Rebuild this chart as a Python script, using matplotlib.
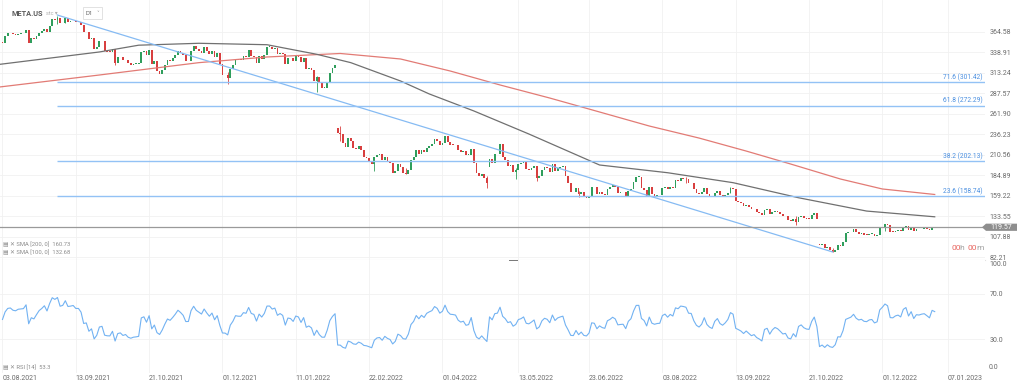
import numpy as np
import pandas as pd
import matplotlib.pyplot as plt
from matplotlib.patches import Polygon, Rectangle
from matplotlib.transforms import IdentityTransform

plt.rcParams['font.family'] = ['Roboto', 'DejaVu Sans']

# NYSE holidays inside the window
holidays = ['2021-09-06', '2021-11-25', '2021-12-24', '2022-01-17', '2022-02-21',
            '2022-04-15', '2022-05-30', '2022-06-20', '2022-07-04', '2022-09-05',
            '2022-11-24', '2022-12-26', '2023-01-02']

# July 2021 closes, only used to warm up the RSI
warmup = [354.39, 354.70, 352.78, 350.49, 345.65, 350.42, 351.23, 352.09, 347.63, 344.46,
          341.16, 336.95, 341.66, 346.23, 351.19, 369.79, 372.46, 367.81, 373.28, 358.32,
          356.30, 351.95]

# daily closes META.US, 03.08.2021 - 30.12.2022
aug21 = [351.24, 358.92, 362.97, 363.51, 361.61, 361.15, 362.65, 362.88, 363.18, 366.56,
         351.19, 356.56, 355.45, 359.37, 363.35, 365.51, 368.39, 364.38, 372.63, 380.66, 379.38]
sep21 = [382.05, 375.28, 376.26, 382.18, 377.57, 378.00, 378.69, 376.51, 376.53, 373.92,
         364.28, 364.72, 355.70, 357.48, 343.21, 345.96, 352.96, 353.58, 340.65, 339.61, 339.39]
oct21 = [343.01, 326.23, 332.96, 333.64, 329.22, 330.05, 325.45, 323.77, 324.54, 324.76,
         325.10, 339.99, 341.13, 335.34, 341.88, 324.61, 328.69, 315.81, 312.22, 316.92, 323.57]
nov21 = [329.98, 328.08, 331.62, 335.85, 341.13, 338.62, 335.37, 327.64, 327.74, 340.89,
         347.56, 342.96, 340.77, 338.69, 345.30, 341.01, 337.25, 341.06, 333.12, 338.03, 324.46]
dec21 = [310.60, 310.39, 306.84, 317.87, 322.81, 330.56, 329.82, 329.75, 334.49, 333.74,
         341.66, 334.90, 333.79, 325.45, 334.20, 330.45, 335.24, 346.18, 346.22, 342.94,
         344.36, 336.35]
jan22 = [338.54, 336.53, 324.17, 332.46, 331.79, 328.07, 334.37, 333.26, 326.48, 331.90,
         318.15, 319.59, 316.56, 303.17, 308.71, 300.15, 294.63, 294.64, 301.71, 313.26]
feb22 = [319.00, 323.00, 237.76, 237.09, 224.91, 220.18, 232.00, 228.07, 219.55, 217.70,
         221.00, 216.54, 207.71, 206.16, 202.08, 198.45, 207.60, 210.48, 211.03]
mar22 = [203.49, 208.11, 202.97, 200.06, 187.47, 190.29, 198.50, 195.21, 187.61, 186.63,
         192.03, 203.63, 207.84, 216.49, 211.49, 216.65, 213.46, 219.57, 221.82, 223.59,
         229.86, 227.85, 222.36]
apr22 = [224.85, 233.89, 226.58, 223.30, 222.95, 222.33, 216.46, 214.14, 214.99, 210.18,
         210.77, 217.31, 200.42, 188.07, 184.11, 186.99, 180.95, 174.95, 205.73, 200.47]
may22 = [211.13, 212.03, 223.41, 208.28, 203.77, 196.21, 197.65, 188.74, 191.24, 198.62,
         200.04, 202.62, 192.24, 191.29, 193.54, 196.23, 181.28, 183.83, 191.63, 195.13, 193.64]
jun22 = [188.64, 198.86, 190.78, 194.25, 195.65, 196.64, 184.00, 175.57, 164.26, 163.73,
         169.35, 160.87, 163.74, 157.05, 155.85, 158.75, 170.16, 169.49, 160.68, 163.94, 161.25]
jul22 = [160.03, 168.19, 169.77, 172.19, 170.25, 162.88, 163.27, 163.49, 158.05, 164.70,
         167.23, 175.78, 183.09, 183.17, 169.27, 166.65, 159.15, 169.58, 160.72, 159.10]
aug22 = [159.93, 160.19, 168.80, 170.57, 167.11, 170.25, 168.53, 178.34, 177.49, 180.89,
         180.50, 179.89, 174.85, 174.66, 167.96, 163.05, 161.11, 163.26, 168.78, 161.78,
         158.71, 157.16, 162.93]
sep22 = [165.36, 160.32, 158.54, 160.39, 163.06, 169.15, 167.84, 153.13, 151.47, 149.55,
         146.29, 148.10, 145.15, 142.12, 142.82, 139.07, 137.10, 134.40, 141.61, 142.41, 135.68]
oct22 = [138.61, 140.28, 138.98, 136.41, 133.45, 133.79, 128.54, 127.50, 130.29, 126.76,
         133.04, 134.04, 131.53, 130.35, 130.01, 134.60, 137.51, 129.82, 97.94, 99.20, 93.16]
nov22 = [95.20, 90.54, 88.91, 90.79, 96.72, 96.47, 101.47, 111.87, 113.02, 114.22,
         117.08, 113.23, 111.45, 112.05, 110.19, 109.87, 111.13, 111.41, 108.78, 109.46, 118.10]
dec22 = [120.44, 123.49, 122.43, 114.12, 113.93, 115.33, 115.90, 114.71, 120.15, 121.59,
         116.15, 119.43, 114.48, 117.36, 117.12, 117.75, 118.04, 116.88, 115.62, 120.26, 119.57]

# opens that gapped away from the previous close
gap_opens = {'2022-02-03': 244.65, '2022-04-28': 194.72, '2022-10-27': 97.98}

# the wicks that stand out on the chart (date: low, high)
wicks = {'2021-09-01': (375.0, 384.3), '2021-09-07': (376.0, 383.5), '2021-10-04': (323.2, 338.0),
         '2021-12-03': (299.5, 314.0), '2022-01-24': (289.1, 309.0), '2022-02-04': (228.0, 247.0),
         '2022-02-24': (190.2, 208.0), '2022-03-14': (185.8, 194.0), '2022-04-27': (169.0, 184.0),
         '2022-05-12': (180.0, 194.0), '2022-05-24': (177.0, 190.0), '2022-06-16': (157.0, 165.0),
         '2022-08-16': (175.0, 183.1), '2022-09-09': (162.5, 170.5), '2022-10-14': (122.8, 134.0),
         '2022-11-03': (88.1, 93.5), '2022-12-02': (115.0, 124.0)}

# moving averages (bar index, value)
sma200_idx = [-1, 37, 75, 101, 129, 152, 171, 190, 209, 228, 247, 266, 284, 301, 320, 336, 356]
sma200_val = [295.6, 310.6, 326.1, 333.2, 337.6, 330.7, 315.6, 298.1, 281.7, 264.2, 246.6,
              231.5, 215.2, 198.9, 180.1, 167.6, 160.7]
sma100_idx = [-1, 37, 52, 75, 101, 120, 133, 152, 163, 180, 201, 228, 254, 279, 304, 330, 356]
sma100_val = [324.0, 339.5, 348.0, 350.4, 348.6, 336.6, 326.1, 303.1, 286.8, 265.5, 236.6,
              197.7, 188.0, 175.5, 156.6, 139.9, 132.7]

# fibonacci retracement: swing high -> swing low
fib_start = ('2021-09-01', 385.8)
fib_end = ('2022-11-03', 88.6)
fib_levels = [301.42, 272.29, 202.13, 158.74]
fib_labels = ['71.6 (301.42)', '61.8 (272.29)', '38.2 (202.13)', '23.6 (158.74)']

price_ticks = [364.58, 338.91, 313.24, 287.57, 261.90, 236.23, 210.56, 184.89,
               159.22, 133.55, 107.88, 82.21]
date_labels = ['03.08.2021', '13.09.2021', '21.10.2021', '01.12.2021', '11.01.2022',
               '22.02.2022', '01.04.2022', '13.05.2022', '23.06.2022', '03.08.2022',
               '13.09.2022', '21.10.2022', '01.12.2022', '07.01.2023']
last_price = 119.57

closes = np.array(aug21 + sep21 + oct21 + nov21 + dec21 + jan22 + feb22 + mar22 + apr22
                  + may22 + jun22 + jul22 + aug22 + sep22 + oct22 + nov22 + dec22)
n = len(closes)
days = pd.bdate_range('2021-08-03', '2023-01-31', freq='C', holidays=holidays)
dates = days[:n]

opens = np.r_[warmup[-1], closes[:-1]]
for d, o in gap_opens.items():
    opens[dates.get_loc(pd.Timestamp(d))] = o

# RSI 14 (Wilder)
allc = pd.Series(warmup + list(closes))
delta = allc.diff()
gain = delta.clip(lower=0).ewm(alpha=1 / 14, adjust=False).mean()
loss = (-delta.clip(upper=0)).ewm(alpha=1 / 14, adjust=False).mean()
rsi = (100 - 100 / (1 + gain / loss)).values[-n:]

W, H = 1024, 388
fig = plt.figure(figsize=(W / 100, H / 100), dpi=100)
ax = fig.add_axes([0, 1 - 260 / H, 985 / W, 260 / H])
rax = fig.add_axes([0, 1 - 373 / H, 985 / W, 113 / H])

x = np.arange(n)
xmin, xmax = -0.95, 375.2
tick_pos = [days.searchsorted(pd.to_datetime(d, dayfirst=True)) for d in date_labels]

green, red = '#2f9e5c', '#d83f3f'
up = closes >= opens
cols = np.where(up, green, red)

for d, (lo, hi) in wicks.items():
    i = dates.get_loc(pd.Timestamp(d))
    ax.vlines(i, lo, hi, color=cols[i], lw=0.6)

body_lo = np.minimum(opens, closes)
body_h = np.maximum(np.abs(closes - opens), 0.7)
ax.bar(x, body_h, bottom=body_lo, width=0.68, color=cols, linewidth=0)

ax.plot(sma200_idx, sma200_val, color='#e27b75', lw=0.9)
ax.plot(sma100_idx, sma100_val, color='#707070', lw=0.9)

f0 = dates.get_loc(pd.Timestamp(fib_start[0]))
f1 = dates.get_loc(pd.Timestamp(fib_end[0]))
ax.plot([f0, f1], [fib_start[1], fib_end[1]], color='#86bbf3', lw=0.9)
for lv, lb in zip(fib_levels, fib_labels):
    ax.hlines(lv, f0, xmax, color='#93c2f5', lw=1.0)
    ax.text(983 / 985, lv + 1.2, lb, transform=ax.get_yaxis_transform(), ha='right',
            va='bottom', fontsize=4.8, color='#4a8fe0')

ax.axhline(last_price, color='#9a9a9a', lw=0.9)

ax.set_xlim(xmin, xmax)
ax.set_ylim(78.5, 404.7)
ax.set_xticks(tick_pos)
ax.set_yticks(price_ticks, labels=[f'{v:.2f}' for v in price_ticks])
ax.yaxis.tick_right()
ax.tick_params(axis='x', length=0, labelbottom=False)
ax.tick_params(axis='y', length=0, pad=3.5, labelsize=5, colors='#6a6a6a')
ax.grid(True, color='#f1f1f1', lw=0.6)
ax.set_axisbelow(True)
for s in ax.spines.values():
    s.set_visible(False)
ax.spines['bottom'].set_visible(True)
ax.spines['bottom'].set_color('#e2e2e2')
ax.spines['bottom'].set_linewidth(0.8)

# RSI panel
rax.plot(x, rsi, color='#72b2f2', lw=0.8)
rax.set_xlim(xmin, xmax)
rax.set_ylim(0, 100)
rax.set_yticks([70, 30], labels=['70.0', '30.0'])
rax.yaxis.tick_right()
rax.set_xticks(tick_pos, labels=date_labels)
for t in rax.get_xticklabels():
    t.set_ha('left')
rax.tick_params(axis='x', length=0, pad=1.5, labelsize=5, colors='#6a6a6a')
rax.tick_params(axis='y', length=0, pad=3.5, labelsize=5, colors='#6a6a6a')
rax.grid(True, color='#f1f1f1', lw=0.6)
rax.set_axisbelow(True)
for s in rax.spines.values():
    s.set_visible(False)
rax.text(1 + 4 / 985, 99, '100.0', transform=rax.get_yaxis_transform(), ha='left', va='top',
         fontsize=5, color='#6a6a6a')
rax.text(1 + 4 / 985, 2, '0.0', transform=rax.get_yaxis_transform(), ha='left', va='bottom',
         fontsize=5, color='#6a6a6a')


def fx(px):
    return px / W


def fy(py):
    return 1 - py / H


# header
fig.text(fx(12), fy(13.5), 'META.US', fontsize=5.3, fontweight='bold', color='#5a5a5a', va='center')
fig.text(fx(46), fy(13.5), 'stc ▾', fontsize=4, color='#b0b0b0', va='center')
fig.patches.append(Rectangle((fx(83), fy(18.5)), 19 / W, 11 / H, transform=fig.transFigure,
                             facecolor='white', edgecolor='#dddddd', lw=0.6))
fig.text(fx(86), fy(13.5), 'D1', fontsize=4.3, color='#666666', va='center')
fig.text(fx(96), fy(13.5), '˅', fontsize=4, color='#999999', va='center')

# indicator captions
fig.text(fx(3), fy(244), '▤ ✕ SMA [200, 0]  160.73', fontsize=4.2, color='#8c8c8c', va='center')
fig.text(fx(3), fy(252.5), '▤ ✕ SMA [100, 0]  132.68', fontsize=4.2, color='#8c8c8c', va='center')
fig.text(fx(3), fy(367), '▤ ✕ RSI [14]  53.3', fontsize=4.2, color='#8c8c8c', va='center')

# pane resize handle
fig.lines.append(plt.Line2D([fx(509), fx(517)], [fy(260), fy(260)], transform=fig.transFigure,
                            color='#777777', lw=0.7))

# last price tag
fig.canvas.draw()
yc = ax.transData.transform((0, last_price))[1]
tag = Polygon([(982, yc), (986, yc + 3.6), (1017, yc + 3.6), (1017, yc - 3.6), (986, yc - 3.6)],
              closed=True, transform=IdentityTransform(), facecolor='#8e8e8e', edgecolor='none')
fig.patches.append(tag)
fig.text(1001.5 / W, yc / H, f'{last_price:.2f}', fontsize=5, color='white', ha='center', va='center')

# market countdown
t1 = fig.text(fx(951), fy(248), '00', fontsize=6, color='#e8645e', va='center')
t2 = fig.text(0, 0, 'h ', fontsize=6, color='#a0a0a0', va='center')
t3 = fig.text(0, 0, '00', fontsize=6, color='#e8645e', va='center')
t4 = fig.text(0, 0, 'm', fontsize=6, color='#a0a0a0', va='center')
r = fig.canvas.get_renderer()
prev = t1
for t in (t2, t3, t4):
    bb = prev.get_window_extent(r)
    t.set_position((bb.x1 / W, fy(248)))
    prev = t

fig.savefig('out.png', dpi=100, facecolor='white')
